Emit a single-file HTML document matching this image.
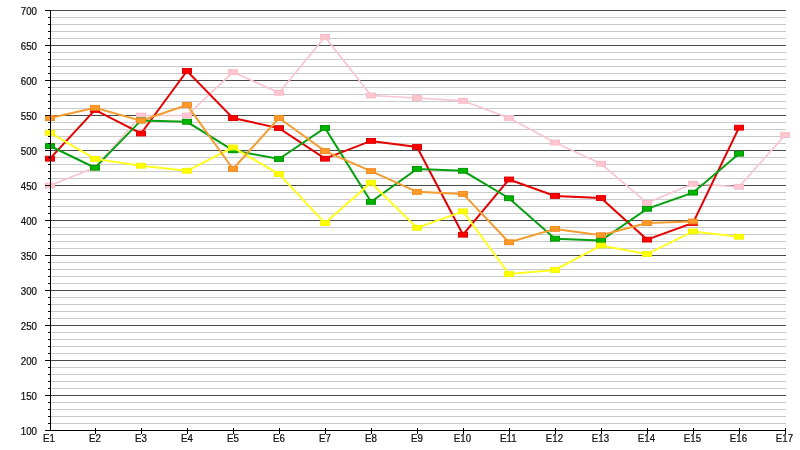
<!DOCTYPE html><html><head><meta charset="utf-8"><style>html,body{margin:0;padding:0;background:#fff;}svg{display:block}svg{will-change:transform}text{font-family:"Liberation Sans",Arial,sans-serif;font-size:10.8px;fill:#111;stroke:#111;stroke-width:0.25px}</style></head><body>
<svg width="800" height="450" viewBox="0 0 800 450">
<rect width="800" height="450" fill="#fff"/>
<rect x="51" y="10" width="735" height="1" fill="#4a4a4a"/><rect x="51" y="17" width="735" height="1" fill="#cacaca"/><rect x="51" y="24" width="735" height="1" fill="#cacaca"/><rect x="51" y="31" width="735" height="1" fill="#cacaca"/><rect x="51" y="38" width="735" height="1" fill="#cacaca"/><rect x="51" y="45" width="735" height="1" fill="#4a4a4a"/><rect x="51" y="52" width="735" height="1" fill="#cacaca"/><rect x="51" y="59" width="735" height="1" fill="#cacaca"/><rect x="51" y="66" width="735" height="1" fill="#cacaca"/><rect x="51" y="73" width="735" height="1" fill="#cacaca"/><rect x="51" y="80" width="735" height="1" fill="#4a4a4a"/><rect x="51" y="87" width="735" height="1" fill="#cacaca"/><rect x="51" y="94" width="735" height="1" fill="#cacaca"/><rect x="51" y="101" width="735" height="1" fill="#cacaca"/><rect x="51" y="108" width="735" height="1" fill="#cacaca"/><rect x="51" y="115" width="735" height="1" fill="#4a4a4a"/><rect x="51" y="122" width="735" height="1" fill="#cacaca"/><rect x="51" y="129" width="735" height="1" fill="#cacaca"/><rect x="51" y="136" width="735" height="1" fill="#cacaca"/><rect x="51" y="143" width="735" height="1" fill="#cacaca"/><rect x="51" y="150" width="735" height="1" fill="#4a4a4a"/><rect x="51" y="157" width="735" height="1" fill="#cacaca"/><rect x="51" y="164" width="735" height="1" fill="#cacaca"/><rect x="51" y="171" width="735" height="1" fill="#cacaca"/><rect x="51" y="178" width="735" height="1" fill="#cacaca"/><rect x="51" y="185" width="735" height="1" fill="#4a4a4a"/><rect x="51" y="192" width="735" height="1" fill="#cacaca"/><rect x="51" y="199" width="735" height="1" fill="#cacaca"/><rect x="51" y="206" width="735" height="1" fill="#cacaca"/><rect x="51" y="213" width="735" height="1" fill="#cacaca"/><rect x="51" y="220" width="735" height="1" fill="#4a4a4a"/><rect x="51" y="227" width="735" height="1" fill="#cacaca"/><rect x="51" y="234" width="735" height="1" fill="#cacaca"/><rect x="51" y="241" width="735" height="1" fill="#cacaca"/><rect x="51" y="248" width="735" height="1" fill="#cacaca"/><rect x="51" y="255" width="735" height="1" fill="#4a4a4a"/><rect x="51" y="262" width="735" height="1" fill="#cacaca"/><rect x="51" y="269" width="735" height="1" fill="#cacaca"/><rect x="51" y="276" width="735" height="1" fill="#cacaca"/><rect x="51" y="283" width="735" height="1" fill="#cacaca"/><rect x="51" y="290" width="735" height="1" fill="#4a4a4a"/><rect x="51" y="297" width="735" height="1" fill="#cacaca"/><rect x="51" y="304" width="735" height="1" fill="#cacaca"/><rect x="51" y="311" width="735" height="1" fill="#cacaca"/><rect x="51" y="318" width="735" height="1" fill="#cacaca"/><rect x="51" y="325" width="735" height="1" fill="#4a4a4a"/><rect x="51" y="332" width="735" height="1" fill="#cacaca"/><rect x="51" y="339" width="735" height="1" fill="#cacaca"/><rect x="51" y="346" width="735" height="1" fill="#cacaca"/><rect x="51" y="353" width="735" height="1" fill="#cacaca"/><rect x="51" y="360" width="735" height="1" fill="#4a4a4a"/><rect x="51" y="367" width="735" height="1" fill="#cacaca"/><rect x="51" y="374" width="735" height="1" fill="#cacaca"/><rect x="51" y="381" width="735" height="1" fill="#cacaca"/><rect x="51" y="388" width="735" height="1" fill="#cacaca"/><rect x="51" y="395" width="735" height="1" fill="#4a4a4a"/><rect x="51" y="402" width="735" height="1" fill="#cacaca"/><rect x="51" y="409" width="735" height="1" fill="#cacaca"/><rect x="51" y="416" width="735" height="1" fill="#cacaca"/><rect x="51" y="423" width="735" height="1" fill="#cacaca"/>
<text transform="translate(37.0,15.00) scale(0.9,1)" text-anchor="end">700</text><text transform="translate(37.0,50.00) scale(0.9,1)" text-anchor="end">650</text><text transform="translate(37.0,85.00) scale(0.9,1)" text-anchor="end">600</text><text transform="translate(37.0,120.00) scale(0.9,1)" text-anchor="end">550</text><text transform="translate(37.0,155.00) scale(0.9,1)" text-anchor="end">500</text><text transform="translate(37.0,190.00) scale(0.9,1)" text-anchor="end">450</text><text transform="translate(37.0,225.00) scale(0.9,1)" text-anchor="end">400</text><text transform="translate(37.0,260.00) scale(0.9,1)" text-anchor="end">350</text><text transform="translate(37.0,295.00) scale(0.9,1)" text-anchor="end">300</text><text transform="translate(37.0,330.00) scale(0.9,1)" text-anchor="end">250</text><text transform="translate(37.0,365.00) scale(0.9,1)" text-anchor="end">200</text><text transform="translate(37.0,400.00) scale(0.9,1)" text-anchor="end">150</text><text transform="translate(37.0,435.00) scale(0.9,1)" text-anchor="end">100</text>
<polyline points="50.00,185.50 95.00,167.58 141.00,115.50 187.00,115.50 233.00,72.10 279.00,92.75 325.00,36.89 371.00,95.48 417.00,98.00 463.00,100.80 509.00,117.95 555.00,142.52 601.00,163.80 647.00,202.79 693.00,183.75 739.00,186.76 785.00,135.10" fill="none" stroke="#f6c6d0" stroke-width="1.7" stroke-linejoin="miter"/>
<rect x="45.50" y="183.10" width="9" height="4.80" fill="#ffc6d0" stroke="#f8bcc8" stroke-width="1"/><rect x="90.50" y="165.18" width="9" height="4.80" fill="#ffc6d0" stroke="#f8bcc8" stroke-width="1"/><rect x="136.50" y="113.10" width="9" height="4.80" fill="#ffc6d0" stroke="#f8bcc8" stroke-width="1"/><rect x="182.50" y="113.10" width="9" height="4.80" fill="#ffc6d0" stroke="#f8bcc8" stroke-width="1"/><rect x="228.50" y="69.70" width="9" height="4.80" fill="#ffc6d0" stroke="#f8bcc8" stroke-width="1"/><rect x="274.50" y="90.35" width="9" height="4.80" fill="#ffc6d0" stroke="#f8bcc8" stroke-width="1"/><rect x="320.50" y="34.49" width="9" height="4.80" fill="#ffc6d0" stroke="#f8bcc8" stroke-width="1"/><rect x="366.50" y="93.08" width="9" height="4.80" fill="#ffc6d0" stroke="#f8bcc8" stroke-width="1"/><rect x="412.50" y="95.60" width="9" height="4.80" fill="#ffc6d0" stroke="#f8bcc8" stroke-width="1"/><rect x="458.50" y="98.40" width="9" height="4.80" fill="#ffc6d0" stroke="#f8bcc8" stroke-width="1"/><rect x="504.50" y="115.55" width="9" height="4.80" fill="#ffc6d0" stroke="#f8bcc8" stroke-width="1"/><rect x="550.50" y="140.12" width="9" height="4.80" fill="#ffc6d0" stroke="#f8bcc8" stroke-width="1"/><rect x="596.50" y="161.40" width="9" height="4.80" fill="#ffc6d0" stroke="#f8bcc8" stroke-width="1"/><rect x="642.50" y="200.39" width="9" height="4.80" fill="#ffc6d0" stroke="#f8bcc8" stroke-width="1"/><rect x="688.50" y="181.35" width="9" height="4.80" fill="#ffc6d0" stroke="#f8bcc8" stroke-width="1"/><rect x="734.50" y="184.36" width="9" height="4.80" fill="#ffc6d0" stroke="#f8bcc8" stroke-width="1"/><rect x="780.50" y="132.70" width="9" height="4.80" fill="#ffc6d0" stroke="#f8bcc8" stroke-width="1"/>
<polyline points="50.00,158.69 95.00,109.90 141.00,133.49 187.00,70.98 233.00,118.09 279.00,128.10 325.00,158.69 371.00,140.91 417.00,147.00 463.00,234.71 509.00,179.48 555.00,195.93 601.00,198.03 647.00,239.61 693.00,222.95 739.00,127.68" fill="none" stroke="#e40000" stroke-width="2.0" stroke-linejoin="miter"/>
<rect x="45.50" y="156.29" width="9" height="4.80" fill="#ff0000" stroke="#d80000" stroke-width="1"/><rect x="90.50" y="107.50" width="9" height="4.80" fill="#ff0000" stroke="#d80000" stroke-width="1"/><rect x="136.50" y="131.09" width="9" height="4.80" fill="#ff0000" stroke="#d80000" stroke-width="1"/><rect x="182.50" y="68.58" width="9" height="4.80" fill="#ff0000" stroke="#d80000" stroke-width="1"/><rect x="228.50" y="115.69" width="9" height="4.80" fill="#ff0000" stroke="#d80000" stroke-width="1"/><rect x="274.50" y="125.70" width="9" height="4.80" fill="#ff0000" stroke="#d80000" stroke-width="1"/><rect x="320.50" y="156.29" width="9" height="4.80" fill="#ff0000" stroke="#d80000" stroke-width="1"/><rect x="366.50" y="138.51" width="9" height="4.80" fill="#ff0000" stroke="#d80000" stroke-width="1"/><rect x="412.50" y="144.60" width="9" height="4.80" fill="#ff0000" stroke="#d80000" stroke-width="1"/><rect x="458.50" y="232.31" width="9" height="4.80" fill="#ff0000" stroke="#d80000" stroke-width="1"/><rect x="504.50" y="177.08" width="9" height="4.80" fill="#ff0000" stroke="#d80000" stroke-width="1"/><rect x="550.50" y="193.53" width="9" height="4.80" fill="#ff0000" stroke="#d80000" stroke-width="1"/><rect x="596.50" y="195.63" width="9" height="4.80" fill="#ff0000" stroke="#d80000" stroke-width="1"/><rect x="642.50" y="237.21" width="9" height="4.80" fill="#ff0000" stroke="#d80000" stroke-width="1"/><rect x="688.50" y="220.55" width="9" height="4.80" fill="#ff0000" stroke="#d80000" stroke-width="1"/><rect x="734.50" y="125.28" width="9" height="4.80" fill="#ff0000" stroke="#d80000" stroke-width="1"/>
<polyline points="50.00,146.02 95.00,167.72 141.00,120.40 187.00,121.80 233.00,150.29 279.00,159.04 325.00,127.96 371.00,201.88 417.00,168.91 463.00,170.80 509.00,198.24 555.00,238.70 601.00,240.45 647.00,208.81 693.00,192.64 739.00,153.72" fill="none" stroke="#07a010" stroke-width="2.0" stroke-linejoin="miter"/>
<rect x="45.50" y="143.62" width="9" height="4.80" fill="#00b400" stroke="#009600" stroke-width="1"/><rect x="90.50" y="165.32" width="9" height="4.80" fill="#00b400" stroke="#009600" stroke-width="1"/><rect x="136.50" y="118.00" width="9" height="4.80" fill="#00b400" stroke="#009600" stroke-width="1"/><rect x="182.50" y="119.40" width="9" height="4.80" fill="#00b400" stroke="#009600" stroke-width="1"/><rect x="228.50" y="147.89" width="9" height="4.80" fill="#00b400" stroke="#009600" stroke-width="1"/><rect x="274.50" y="156.64" width="9" height="4.80" fill="#00b400" stroke="#009600" stroke-width="1"/><rect x="320.50" y="125.56" width="9" height="4.80" fill="#00b400" stroke="#009600" stroke-width="1"/><rect x="366.50" y="199.48" width="9" height="4.80" fill="#00b400" stroke="#009600" stroke-width="1"/><rect x="412.50" y="166.51" width="9" height="4.80" fill="#00b400" stroke="#009600" stroke-width="1"/><rect x="458.50" y="168.40" width="9" height="4.80" fill="#00b400" stroke="#009600" stroke-width="1"/><rect x="504.50" y="195.84" width="9" height="4.80" fill="#00b400" stroke="#009600" stroke-width="1"/><rect x="550.50" y="236.30" width="9" height="4.80" fill="#00b400" stroke="#009600" stroke-width="1"/><rect x="596.50" y="238.05" width="9" height="4.80" fill="#00b400" stroke="#009600" stroke-width="1"/><rect x="642.50" y="206.41" width="9" height="4.80" fill="#00b400" stroke="#009600" stroke-width="1"/><rect x="688.50" y="190.24" width="9" height="4.80" fill="#00b400" stroke="#009600" stroke-width="1"/><rect x="734.50" y="151.32" width="9" height="4.80" fill="#00b400" stroke="#009600" stroke-width="1"/>
<polyline points="50.00,132.72 95.00,158.90 141.00,165.69 187.00,170.80 233.00,147.49 279.00,174.02 325.00,223.09 371.00,182.70 417.00,227.85 463.00,211.40 509.00,274.05 555.00,269.99 601.00,245.49 647.00,254.03 693.00,231.42 739.00,236.74" fill="none" stroke="#ffff20" stroke-width="2.0" stroke-linejoin="miter"/>
<rect x="45.50" y="130.32" width="9" height="4.80" fill="#ffff00" stroke="#f4f400" stroke-width="1"/><rect x="90.50" y="156.50" width="9" height="4.80" fill="#ffff00" stroke="#f4f400" stroke-width="1"/><rect x="136.50" y="163.29" width="9" height="4.80" fill="#ffff00" stroke="#f4f400" stroke-width="1"/><rect x="182.50" y="168.40" width="9" height="4.80" fill="#ffff00" stroke="#f4f400" stroke-width="1"/><rect x="228.50" y="145.09" width="9" height="4.80" fill="#ffff00" stroke="#f4f400" stroke-width="1"/><rect x="274.50" y="171.62" width="9" height="4.80" fill="#ffff00" stroke="#f4f400" stroke-width="1"/><rect x="320.50" y="220.69" width="9" height="4.80" fill="#ffff00" stroke="#f4f400" stroke-width="1"/><rect x="366.50" y="180.30" width="9" height="4.80" fill="#ffff00" stroke="#f4f400" stroke-width="1"/><rect x="412.50" y="225.45" width="9" height="4.80" fill="#ffff00" stroke="#f4f400" stroke-width="1"/><rect x="458.50" y="209.00" width="9" height="4.80" fill="#ffff00" stroke="#f4f400" stroke-width="1"/><rect x="504.50" y="271.65" width="9" height="4.80" fill="#ffff00" stroke="#f4f400" stroke-width="1"/><rect x="550.50" y="267.59" width="9" height="4.80" fill="#ffff00" stroke="#f4f400" stroke-width="1"/><rect x="596.50" y="243.09" width="9" height="4.80" fill="#ffff00" stroke="#f4f400" stroke-width="1"/><rect x="642.50" y="251.63" width="9" height="4.80" fill="#ffff00" stroke="#f4f400" stroke-width="1"/><rect x="688.50" y="229.02" width="9" height="4.80" fill="#ffff00" stroke="#f4f400" stroke-width="1"/><rect x="734.50" y="234.34" width="9" height="4.80" fill="#ffff00" stroke="#f4f400" stroke-width="1"/>
<polyline points="50.00,118.09 95.00,107.80 141.00,120.61 187.00,105.00 233.00,168.98 279.00,118.02 325.00,151.06 371.00,171.08 417.00,191.87 463.00,193.90 509.00,242.27 555.00,228.90 601.00,235.20 647.00,223.09 693.00,221.48" fill="none" stroke="#f39c30" stroke-width="2.0" stroke-linejoin="miter"/>
<rect x="45.50" y="115.69" width="9" height="4.80" fill="#ff9a2a" stroke="#f08c20" stroke-width="1"/><rect x="90.50" y="105.40" width="9" height="4.80" fill="#ff9a2a" stroke="#f08c20" stroke-width="1"/><rect x="136.50" y="118.21" width="9" height="4.80" fill="#ff9a2a" stroke="#f08c20" stroke-width="1"/><rect x="182.50" y="102.60" width="9" height="4.80" fill="#ff9a2a" stroke="#f08c20" stroke-width="1"/><rect x="228.50" y="166.58" width="9" height="4.80" fill="#ff9a2a" stroke="#f08c20" stroke-width="1"/><rect x="274.50" y="115.62" width="9" height="4.80" fill="#ff9a2a" stroke="#f08c20" stroke-width="1"/><rect x="320.50" y="148.66" width="9" height="4.80" fill="#ff9a2a" stroke="#f08c20" stroke-width="1"/><rect x="366.50" y="168.68" width="9" height="4.80" fill="#ff9a2a" stroke="#f08c20" stroke-width="1"/><rect x="412.50" y="189.47" width="9" height="4.80" fill="#ff9a2a" stroke="#f08c20" stroke-width="1"/><rect x="458.50" y="191.50" width="9" height="4.80" fill="#ff9a2a" stroke="#f08c20" stroke-width="1"/><rect x="504.50" y="239.87" width="9" height="4.80" fill="#ff9a2a" stroke="#f08c20" stroke-width="1"/><rect x="550.50" y="226.50" width="9" height="4.80" fill="#ff9a2a" stroke="#f08c20" stroke-width="1"/><rect x="596.50" y="232.80" width="9" height="4.80" fill="#ff9a2a" stroke="#f08c20" stroke-width="1"/><rect x="642.50" y="220.69" width="9" height="4.80" fill="#ff9a2a" stroke="#f08c20" stroke-width="1"/><rect x="688.50" y="219.08" width="9" height="4.80" fill="#ff9a2a" stroke="#f08c20" stroke-width="1"/>
<rect x="45" y="10" width="5" height="1" fill="#000"/><rect x="48" y="17" width="2" height="1" fill="#000"/><rect x="48" y="24" width="2" height="1" fill="#000"/><rect x="48" y="31" width="2" height="1" fill="#000"/><rect x="48" y="38" width="2" height="1" fill="#000"/><rect x="45" y="45" width="5" height="1" fill="#000"/><rect x="48" y="52" width="2" height="1" fill="#000"/><rect x="48" y="59" width="2" height="1" fill="#000"/><rect x="48" y="66" width="2" height="1" fill="#000"/><rect x="48" y="73" width="2" height="1" fill="#000"/><rect x="45" y="80" width="5" height="1" fill="#000"/><rect x="48" y="87" width="2" height="1" fill="#000"/><rect x="48" y="94" width="2" height="1" fill="#000"/><rect x="48" y="101" width="2" height="1" fill="#000"/><rect x="48" y="108" width="2" height="1" fill="#000"/><rect x="45" y="115" width="5" height="1" fill="#000"/><rect x="48" y="122" width="2" height="1" fill="#000"/><rect x="48" y="129" width="2" height="1" fill="#000"/><rect x="48" y="136" width="2" height="1" fill="#000"/><rect x="48" y="143" width="2" height="1" fill="#000"/><rect x="45" y="150" width="5" height="1" fill="#000"/><rect x="48" y="157" width="2" height="1" fill="#000"/><rect x="48" y="164" width="2" height="1" fill="#000"/><rect x="48" y="171" width="2" height="1" fill="#000"/><rect x="48" y="178" width="2" height="1" fill="#000"/><rect x="45" y="185" width="5" height="1" fill="#000"/><rect x="48" y="192" width="2" height="1" fill="#000"/><rect x="48" y="199" width="2" height="1" fill="#000"/><rect x="48" y="206" width="2" height="1" fill="#000"/><rect x="48" y="213" width="2" height="1" fill="#000"/><rect x="45" y="220" width="5" height="1" fill="#000"/><rect x="48" y="227" width="2" height="1" fill="#000"/><rect x="48" y="234" width="2" height="1" fill="#000"/><rect x="48" y="241" width="2" height="1" fill="#000"/><rect x="48" y="248" width="2" height="1" fill="#000"/><rect x="45" y="255" width="5" height="1" fill="#000"/><rect x="48" y="262" width="2" height="1" fill="#000"/><rect x="48" y="269" width="2" height="1" fill="#000"/><rect x="48" y="276" width="2" height="1" fill="#000"/><rect x="48" y="283" width="2" height="1" fill="#000"/><rect x="45" y="290" width="5" height="1" fill="#000"/><rect x="48" y="297" width="2" height="1" fill="#000"/><rect x="48" y="304" width="2" height="1" fill="#000"/><rect x="48" y="311" width="2" height="1" fill="#000"/><rect x="48" y="318" width="2" height="1" fill="#000"/><rect x="45" y="325" width="5" height="1" fill="#000"/><rect x="48" y="332" width="2" height="1" fill="#000"/><rect x="48" y="339" width="2" height="1" fill="#000"/><rect x="48" y="346" width="2" height="1" fill="#000"/><rect x="48" y="353" width="2" height="1" fill="#000"/><rect x="45" y="360" width="5" height="1" fill="#000"/><rect x="48" y="367" width="2" height="1" fill="#000"/><rect x="48" y="374" width="2" height="1" fill="#000"/><rect x="48" y="381" width="2" height="1" fill="#000"/><rect x="48" y="388" width="2" height="1" fill="#000"/><rect x="45" y="395" width="5" height="1" fill="#000"/><rect x="48" y="402" width="2" height="1" fill="#000"/><rect x="48" y="409" width="2" height="1" fill="#000"/><rect x="48" y="416" width="2" height="1" fill="#000"/><rect x="48" y="423" width="2" height="1" fill="#000"/><rect x="45" y="430" width="5" height="1" fill="#000"/>
<rect x="50" y="10" width="1" height="421" fill="#000"/>
<rect x="45" y="430" width="741" height="1" fill="#000"/>
<rect x="95" y="428" width="1" height="6" fill="#000"/><rect x="141" y="428" width="1" height="6" fill="#000"/><rect x="187" y="428" width="1" height="6" fill="#000"/><rect x="233" y="428" width="1" height="6" fill="#000"/><rect x="279" y="428" width="1" height="6" fill="#000"/><rect x="325" y="428" width="1" height="6" fill="#000"/><rect x="371" y="428" width="1" height="6" fill="#000"/><rect x="417" y="428" width="1" height="6" fill="#000"/><rect x="463" y="428" width="1" height="6" fill="#000"/><rect x="509" y="428" width="1" height="6" fill="#000"/><rect x="555" y="428" width="1" height="6" fill="#000"/><rect x="601" y="428" width="1" height="6" fill="#000"/><rect x="647" y="428" width="1" height="6" fill="#000"/><rect x="693" y="428" width="1" height="6" fill="#000"/><rect x="739" y="428" width="1" height="6" fill="#000"/><rect x="785" y="428" width="1" height="6" fill="#000"/>
<text transform="translate(48.90,442) scale(0.9,1)" text-anchor="middle">E1</text><text transform="translate(94.90,442) scale(0.9,1)" text-anchor="middle">E2</text><text transform="translate(140.90,442) scale(0.9,1)" text-anchor="middle">E3</text><text transform="translate(186.90,442) scale(0.9,1)" text-anchor="middle">E4</text><text transform="translate(232.90,442) scale(0.9,1)" text-anchor="middle">E5</text><text transform="translate(278.90,442) scale(0.9,1)" text-anchor="middle">E6</text><text transform="translate(324.90,442) scale(0.9,1)" text-anchor="middle">E7</text><text transform="translate(370.90,442) scale(0.9,1)" text-anchor="middle">E8</text><text transform="translate(416.90,442) scale(0.9,1)" text-anchor="middle">E9</text><text transform="translate(462.40,442) scale(0.9,1)" text-anchor="middle">E10</text><text transform="translate(508.40,442) scale(0.9,1)" text-anchor="middle">E11</text><text transform="translate(554.40,442) scale(0.9,1)" text-anchor="middle">E12</text><text transform="translate(600.40,442) scale(0.9,1)" text-anchor="middle">E13</text><text transform="translate(646.40,442) scale(0.9,1)" text-anchor="middle">E14</text><text transform="translate(692.40,442) scale(0.9,1)" text-anchor="middle">E15</text><text transform="translate(738.40,442) scale(0.9,1)" text-anchor="middle">E16</text><text transform="translate(784.40,442) scale(0.9,1)" text-anchor="middle">E17</text>
</svg></body></html>
